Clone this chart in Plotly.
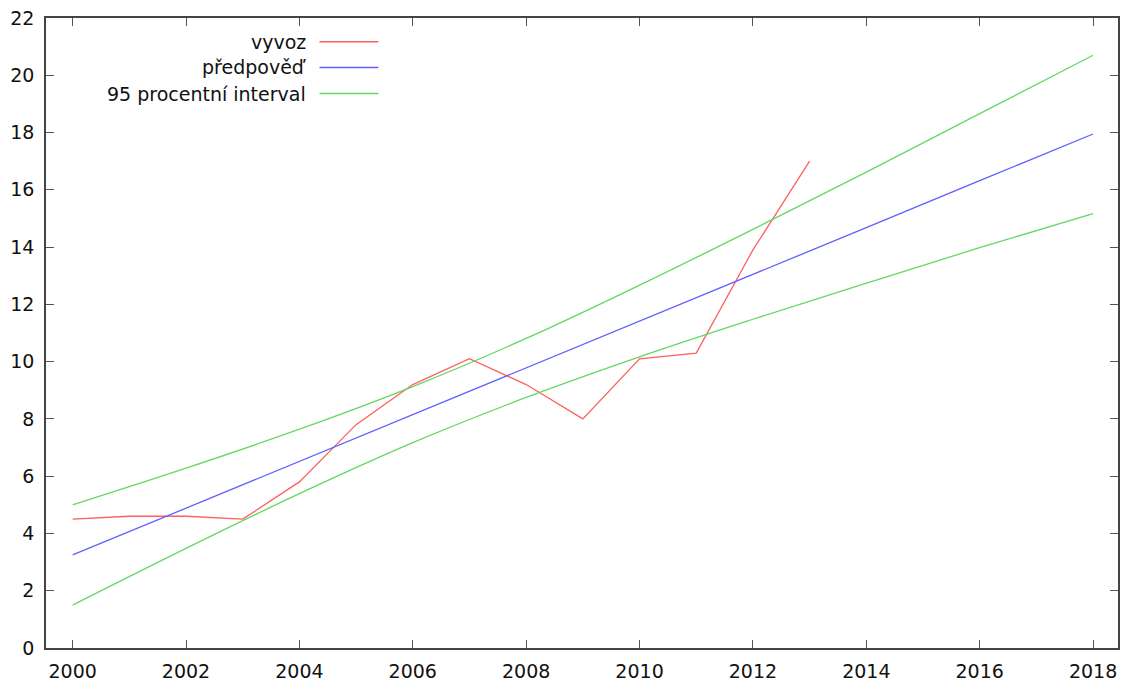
import plotly.graph_objects as go

# --- data ---
years_export = [2000, 2001, 2002, 2003, 2004, 2005, 2006, 2007, 2008, 2009, 2010, 2011, 2012, 2013]
export_vals = [4.5, 4.6, 4.6, 4.5, 5.8, 7.8, 9.2, 10.1, 9.2, 8.0, 10.1, 10.3, 13.9, 17.0]

years_fc = [2000, 2002, 2004, 2006, 2008, 2010, 2012, 2014, 2016, 2018]
forecast_vals = [3.25, 4.88, 6.52, 8.15, 9.78, 11.42, 13.05, 14.68, 16.32, 17.95]
upper_vals = [5.0, 6.28, 7.64, 9.13, 10.81, 12.67, 14.62, 16.62, 18.66, 20.70]
lower_vals = [1.5, 3.48, 5.39, 7.17, 8.75, 10.17, 11.48, 12.74, 13.98, 15.17]

legend_labels = ["vyvoz", "předpověď", "95 procentní interval"]
colors = ["rgb(255,95,95)", "rgb(95,95,255)", "rgb(100,215,100)"]

x_ticks = list(range(2000, 2019, 2))
y_ticks = list(range(0, 23, 2))

FONT = "DejaVu Sans"
W, H = 1125, 687
L, R, T, B = 46, 5, 18, 39
pw = W - L - R
ph = H - T - B

fig = go.Figure()
fig.add_trace(go.Scatter(x=years_export, y=export_vals, mode="lines",
                         line=dict(color=colors[0], width=1.3), name=legend_labels[0]))
fig.add_trace(go.Scatter(x=years_fc, y=forecast_vals, mode="lines",
                         line=dict(color=colors[1], width=1.3), name=legend_labels[1]))
fig.add_trace(go.Scatter(x=years_fc, y=upper_vals, mode="lines", line_shape="spline",
                         line=dict(color=colors[2], width=1.3), name=legend_labels[2]))
fig.add_trace(go.Scatter(x=years_fc, y=lower_vals, mode="lines", line_shape="spline",
                         line=dict(color=colors[2], width=1.3), name=legend_labels[2],
                         showlegend=False))

# gnuplot-style key: text right-aligned, sample line to the right
row_y = [41.7, 67.5, 93.5]
for lab, col, yy in zip(legend_labels, colors, row_y):
    yp = 1 - (yy - T) / ph
    fig.add_annotation(x=(308 - L) / pw, y=yp, xref="paper", yref="paper", text=lab,
                       showarrow=False, xanchor="right", yanchor="middle",
                       font=dict(family=FONT, size=19, color="#111"))
    fig.add_shape(type="line", xref="paper", yref="paper",
                  x0=(320 - L) / pw, x1=(379 - L) / pw, y0=yp, y1=yp,
                  line=dict(color=col, width=1.5))

axis_common = dict(showline=True, linecolor="#444", linewidth=1.5, mirror="ticks",
                   ticks="inside", ticklen=8, tickwidth=1, tickcolor="#555",
                   showgrid=False, zeroline=False,
                   tickfont=dict(family=FONT, size=19, color="#111"))

fig.update_xaxes(range=[1999.53, 2018.44], tickvals=x_ticks, ticklabelstandoff=5,
                 **axis_common)
fig.update_yaxes(range=[0, 22], tickvals=y_ticks, ticklabelstandoff=6, **axis_common)

fig.update_layout(width=W, height=H, margin=dict(l=L, r=R, t=T, b=B),
                  plot_bgcolor="white", paper_bgcolor="white", showlegend=False,
                  font=dict(family=FONT))

fig.write_html("out.html", config={"displayModeBar": False},
               post_script="document.body.style.margin='0';document.body.style.overflow='hidden';")
